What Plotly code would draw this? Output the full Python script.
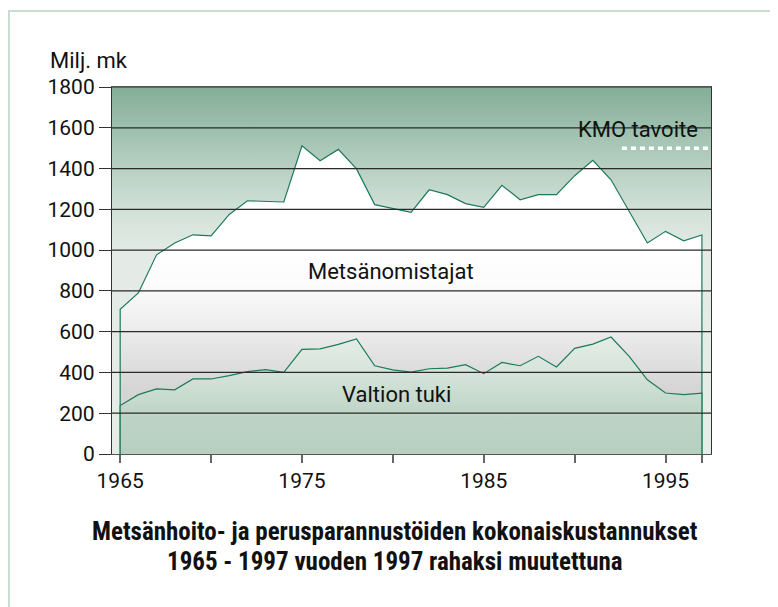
import plotly.graph_objects as go

years = list(range(1965, 1998))
total = [710, 790, 977, 1035, 1075, 1070, 1175, 1242, 1240, 1236,
         1512, 1438, 1494, 1398, 1223, 1203, 1185, 1296, 1272, 1228,
         1210, 1318, 1247, 1272, 1272, 1365, 1440, 1345, 1190, 1035,
         1092, 1046, 1074]
state = [238, 291, 319, 315, 368, 368, 384, 404, 414, 400,
         513, 516, 538, 564, 433, 413, 402, 418, 421, 438,
         394, 449, 433, 479, 427, 518, 539, 574, 479, 364,
         299, 291, 299]
kmo_years = [1992.6, 1997.5]
kmo_value = [1500, 1500]
x_range = [1964.55, 1997.5]
y_ticks = [0, 200, 400, 600, 800, 1000, 1200, 1400, 1600, 1800]
x_ticks = [1965, 1970, 1975, 1980, 1985, 1990, 1995, 1997]
x_ticktext = ["1965", "", "1975", "", "1985", "", "1995", ""]

FONT = "Roboto, sans-serif"
TFONT = "Roboto Condensed, Roboto, sans-serif"
LINE = "#1d7a5a"

fig = go.Figure()

# plot background gradient
fig.add_trace(go.Scatter(
    x=[x_range[0], x_range[1], x_range[1], x_range[0], x_range[0]],
    y=[0, 0, 1800, 1800, 0], mode="none", fill="toself",
    fillgradient=dict(type="vertical", start=0, stop=1800,
                      colorscale=[[0, "#e6ece8"], [0.55, "#e4ebe6"],
                                  [0.67, "#d0e0d6"], [0.8, "#b2cdbe"],
                                  [1, "#84ae98"]]),
    hoverinfo="skip", showlegend=False))

# total (owners + state) area
fig.add_trace(go.Scatter(
    x=[years[0]] + years + [years[-1]], y=[0] + total + [0],
    mode="lines", line=dict(color=LINE, width=1.2), fill="toself",
    fillgradient=dict(type="vertical", start=0, stop=1600,
                      colorscale=[[0, "#d2d0d2"], [0.2, "#d6d5d6"],
                                  [0.38, "#ececec"], [0.53, "#fcfcfc"],
                                  [0.62, "#ffffff"], [1, "#ffffff"]]),
    hoverinfo="skip", showlegend=False))

# state subsidy area
fig.add_trace(go.Scatter(
    x=[years[0]] + years + [years[-1]], y=[0] + state + [0],
    mode="lines", line=dict(color=LINE, width=1.2), fill="toself",
    fillgradient=dict(type="vertical", start=0, stop=600,
                      colorscale=[[0, "#b7cfc1"], [0.3, "#bcd3c5"],
                                  [0.7, "#d8e5dc"], [1, "#e6eee8"]]),
    hoverinfo="skip", showlegend=False))

# target line
fig.add_trace(go.Scatter(
    x=kmo_years, y=kmo_value, mode="lines",
    line=dict(color="white", width=3.5, dash="5px,4px"),
    hoverinfo="skip", showlegend=False))

shapes = []
for v in y_ticks[1:]:
    shapes.append(dict(type="line", xref="paper", x0=0, x1=1, yref="y", y0=v, y1=v,
                       line=dict(color="#2a2a2a", width=1.2), layer="above"))
# outer frame
shapes.append(dict(type="rect", xref="paper", yref="paper",
                   x0=-0.172, x1=2, y0=1.207, y1=-1,
                   line=dict(color="#c9ddd1", width=2), layer="below"))

annotations = [
    dict(text="Milj. mk", xref="paper", yref="paper", x=-0.1068, y=1.0735,
         xanchor="left", yanchor="middle", showarrow=False,
         font=dict(family=FONT, size=22, color="#111")),
    dict(text="KMO tavoite", x=1993.46, y=1591, showarrow=False,
         xanchor="center", yanchor="middle",
         font=dict(family=FONT, size=22, color="#111")),
    dict(text="Metsänomistajat", x=1979.9, y=893, showarrow=False,
         font=dict(family=FONT, size=22, color="#111")),
    dict(text="Valtion tuki", x=1980.2, y=290, showarrow=False,
         font=dict(family=FONT, size=22, color="#111")),
    dict(text="<b>Metsänhoito- ja perusparannustöiden kokonaiskustannukset</b>",
         xref="paper", yref="paper", x=0.4725, y=-0.2115, showarrow=False,
         xanchor="center", yanchor="middle",
         font=dict(family=TFONT, size=25, color="#111")),
    dict(text="<b>1965 - 1997 vuoden 1997 rahaksi muutettuna</b>",
         xref="paper", yref="paper", x=0.4725, y=-0.2932, showarrow=False,
         xanchor="center", yanchor="middle",
         font=dict(family=TFONT, size=25, color="#111")),
]

fig.update_layout(
    width=770, height=599,
    margin=dict(l=104, r=67, t=79, b=153, pad=0),
    paper_bgcolor="white", plot_bgcolor="white",
    shapes=shapes, annotations=annotations,
    font=dict(family=FONT, size=21, color="#111"),
    xaxis=dict(range=x_range, tickvals=x_ticks, ticktext=x_ticktext,
               ticks="outside", ticklen=8, tickcolor="#666", tickwidth=1.5,
               showgrid=False, zeroline=False, showline=True, linecolor="#555",
               linewidth=1.2, mirror=True, tickfont=dict(family=FONT, size=21)),
    yaxis=dict(range=[0, 1800], tickvals=y_ticks, ticks="outside", ticklen=12,
               tickcolor="#333", tickwidth=1.2, showgrid=False, zeroline=False,
               showline=True, linecolor="#333", linewidth=1.2, mirror=True,
               tickfont=dict(family=FONT, size=21)),
)

fig.write_html("out.html")
